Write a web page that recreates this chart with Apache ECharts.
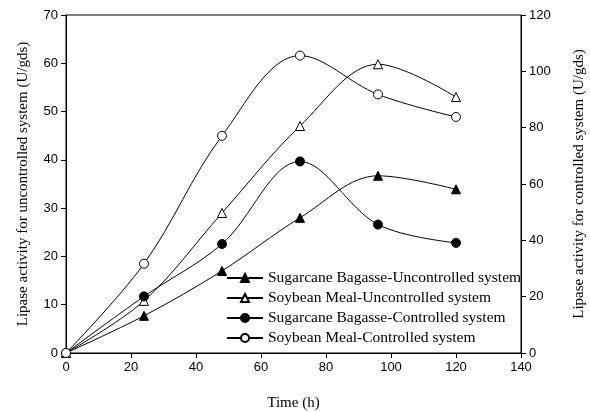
<!DOCTYPE html>
<html>
<head>
<meta charset="utf-8">
<script src="https://cdn.jsdelivr.net/npm/echarts@6/dist/echarts.min.js"></script>
<style>
  html, body { margin: 0; padding: 0; background: #fff; }
  #chart { width: 590px; height: 412px; }
</style>
</head>
<body>
<div id="chart"></div>
<script>
// time points (h)
var hours = [0, 24, 48, 72, 96, 120];
// uncontrolled system -> left axis
var sbUncontrolled = [0, 7.7, 17.0, 28.0, 36.7, 33.9];
var smUncontrolled = [0, 10.8, 29.0, 47.0, 59.8, 53.0];
// controlled system -> right axis
var sbControlled = [0, 20.1, 38.7, 68.0, 45.6, 39.1];
var smControlled = [0, 31.7, 77.1, 105.6, 91.8, 83.8];

var names = [
    'Sugarcane Bagasse-Uncontrolled system',
    'Soybean Meal-Uncontrolled system',
    'Sugarcane Bagasse-Controlled system',
    'Soybean Meal-Controlled system'
];

function pairs(vals) {
    var out = [];
    for (var i = 0; i < hours.length; i++) out.push([hours[i], vals[i]]);
    return out;
}

function makeSeries(name, vals, axis, symbol, filled) {
    return {
        name: name,
        type: 'line',
        yAxisIndex: axis,
        smooth: 0.35,
        symbol: symbol,
        symbolSize: 9,
        lineStyle: { color: '#000', width: 1 },
        itemStyle: {
            color: filled ? '#000' : '#fff',
            borderColor: '#000',
            borderWidth: 1
        },
        data: pairs(vals)
    };
}

var chart = echarts.init(document.getElementById('chart'));

var tickFont = { fontFamily: 'Arial, "Liberation Sans", sans-serif', fontSize: 13, color: '#000' };
var nameFont = { fontFamily: '"Times New Roman", "Liberation Serif", serif', fontSize: 15, color: '#000' };
var axisLine = { show: true, lineStyle: { color: '#000', width: 1 } };
var axisTick = { show: true, inside: false, length: 5, lineStyle: { color: '#000' } };

chart.setOption({
    animation: false,
    grid: {
        left: 66, right: 69, top: 15, bottom: 59,
        show: true, borderColor: '#000', borderWidth: 1,
        containLabel: false,
        outerBoundsMode: 'none'
    },
    legend: {
        orient: 'vertical',
        left: 226, top: 270,
        padding: 0,
        itemWidth: 36, itemHeight: 10,
        itemGap: 4,
        textStyle: {
            fontFamily: '"Times New Roman", "Liberation Serif", serif',
            fontSize: 15.5, lineHeight: 15, color: '#000'
        },
        data: names
    },
    xAxis: {
        type: 'value',
        min: 0, max: 140, interval: 20,
        name: 'Time (h)',
        nameLocation: 'middle',
        nameGap: 43,
        nameTextStyle: nameFont,
        axisLine: axisLine,
        axisTick: axisTick,
        axisLabel: tickFont,
        splitLine: { show: false }
    },
    yAxis: [{
        type: 'value',
        min: 0, max: 70, interval: 10,
        name: 'Lipase activity for uncontrolled system (U/gds)',
        nameLocation: 'middle',
        nameGap: 35,
        nameTextStyle: nameFont,
        axisLine: axisLine,
        axisTick: axisTick,
        axisLabel: tickFont,
        splitLine: { show: false }
    }, {
        type: 'value',
        min: 0, max: 120, interval: 20,
        position: 'right',
        name: 'Lipase activity for controlled system (U/gds)',
        nameLocation: 'middle',
        nameGap: 51,
        nameTextStyle: nameFont,
        axisLine: axisLine,
        axisTick: axisTick,
        axisLabel: tickFont,
        splitLine: { show: false }
    }],
    series: [
        makeSeries(names[0], sbUncontrolled, 0, 'triangle', true),
        makeSeries(names[1], smUncontrolled, 0, 'triangle', false),
        makeSeries(names[2], sbControlled, 1, 'circle', true),
        makeSeries(names[3], smControlled, 1, 'circle', false)
    ]
});
</script>
</body>
</html>
